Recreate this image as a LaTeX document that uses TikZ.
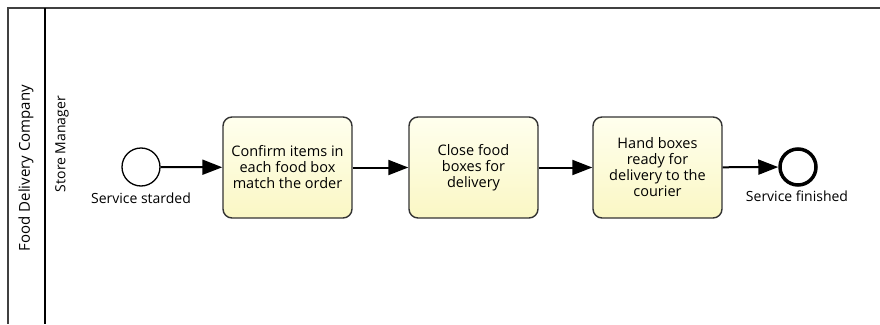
\documentclass[tikz,border=0pt]{standalone}
\usepackage{fontspec}
\setmainfont{Open Sans}
\usetikzlibrary{arrows.meta}

\tikzset{
  task/.style={draw=black!80,line width=1.4pt,rounded corners=9pt,minimum width=129pt,minimum height=101pt,
    top color={rgb,255:red,255;green,255;blue,238},bottom color={rgb,255:red,250;green,247;blue,196},
    align=center,font=\fontsize{14.5}{16}\selectfont,inner sep=2pt},
  event/.style={draw,circle,minimum size=38pt,inner sep=0pt,fill=white},
  flow/.style={line width=2pt,-{Triangle[length=20pt,width=15pt]}},
  lbl/.style={font=\fontsize{14}{16}\selectfont}
}

\begin{document}
\begin{tikzpicture}[x=1pt,y=-1pt]
\useasboundingbox (0,0) rectangle (880,324);

% pool and lane
\draw[line width=1.5pt,black!75] (880,8)--(8,8)--(8,324);
\draw[line width=2.5pt] (45,8)--(45,324);
\node[lbl,rotate=90,font=\fontsize{15}{16}\selectfont] (pool) at (26,168) {Food Delivery Company};
\node[lbl,rotate=90] (lane) at (62,144) {Store Manager};

\node[event,line width=1.3pt] (1) at (141,167) {};
\node[task] (2) at (287.5,167.5) {Confirm items in\\each food box\\match the order};
\node[task] (3) at (473.5,167.5) {Close food\\boxes for\\delivery};
\node[task] (4) at (657.5,167.5) {Hand boxes\\ready for\\delivery to the\\courier};
\node[event,line width=3.5pt,minimum size=36pt] (5) at (798,167) {};

\node[lbl] (6) at (141,198) {Service starded};
\node[lbl] (7) at (797,196) {Service finished};

\draw[flow] (1)--(2);
\draw[flow] (2)--(3);
\draw[flow] (3)--(4);
\draw[flow] (4)--(5);
\end{tikzpicture}
\end{document}
